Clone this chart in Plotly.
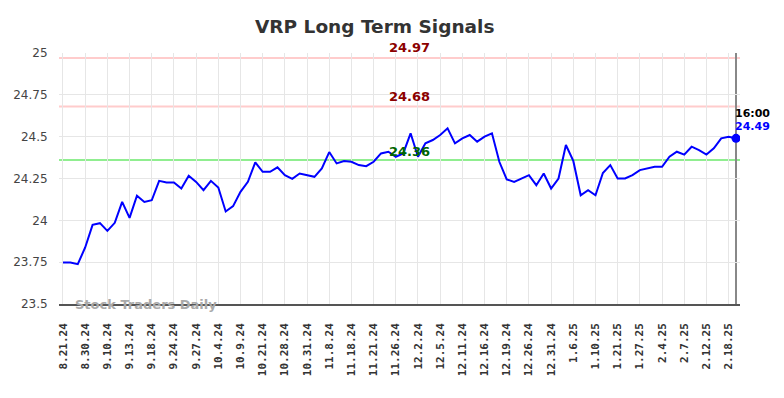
import plotly.graph_objects as go

prices = [
    23.748, 23.748, 23.738, 23.838, 23.973, 23.983, 23.937, 23.985, 24.110, 24.015,
    24.147, 24.110, 24.120, 24.236, 24.226, 24.226, 24.190, 24.266, 24.230, 24.180,
    24.236, 24.196, 24.053, 24.085, 24.170, 24.230, 24.346, 24.290, 24.290, 24.317,
    24.270, 24.248, 24.280, 24.270, 24.260, 24.310, 24.408, 24.340, 24.354, 24.350,
    24.330, 24.324, 24.350, 24.400, 24.410, 24.380, 24.400, 24.520, 24.380, 24.460,
    24.480, 24.510, 24.550, 24.460, 24.490, 24.510, 24.470, 24.500, 24.520, 24.350,
    24.245, 24.230, 24.250, 24.270, 24.210, 24.280, 24.190, 24.250, 24.450, 24.355,
    24.150, 24.180, 24.150, 24.283, 24.330, 24.250, 24.250, 24.270, 24.300, 24.310,
    24.320, 24.320, 24.380, 24.410, 24.393, 24.440, 24.420, 24.393, 24.430, 24.490,
    24.500, 24.490,
]

tick_labels = [
    "8.21.24", "8.30.24", "9.10.24", "9.13.24", "9.18.24", "9.24.24", "9.27.24",
    "10.4.24", "10.9.24", "10.21.24", "10.28.24", "10.31.24", "11.8.24", "11.18.24",
    "11.21.24", "11.26.24", "12.2.24", "12.5.24", "12.11.24", "12.16.24", "12.19.24",
    "12.26.24", "12.31.24", "1.6.25", "1.10.25", "1.21.25", "1.27.25", "2.4.25",
    "2.7.25", "2.12.25", "2.18.25",
]
tick_step = 3

upper_signals = [24.97, 24.68]
lower_signals = [24.36]
last_time = "16:00"

y_ticks = [23.5, 23.75, 24.0, 24.25, 24.5, 24.75, 25.0]
y_tick_text = ["23.5", "23.75", "24", "24.25", "24.5", "24.75", "25"]

x_idx = list(range(len(prices)))
tick_vals = [i * tick_step for i in range(len(tick_labels))]
last_i = x_idx[-1]
last_p = prices[-1]

fig = go.Figure()

fig.add_trace(go.Scatter(
    x=x_idx, y=prices, mode="lines",
    line=dict(color="#0000ff", width=2), hoverinfo="skip", showlegend=False,
))
fig.add_trace(go.Scatter(
    x=[last_i], y=[last_p], mode="markers",
    marker=dict(color="#0000ff", size=9), showlegend=False,
))

for v in upper_signals:
    fig.add_hline(y=v, line=dict(color="#ffcccc", width=2), layer="below")
    fig.add_annotation(x=0.514, xref="paper", y=v, yref="y", text=f"<b>{v:.2f}</b>",
                       showarrow=False, yanchor="bottom", yshift=1,
                       font=dict(color="#8b0000", size=13, family="DejaVu Sans"))
for v in lower_signals:
    fig.add_hline(y=v, line=dict(color="#90ee90", width=2), layer="below")
    fig.add_annotation(x=0.514, xref="paper", y=v, yref="y", text=f"<b>{v:.2f}</b>",
                       showarrow=False, yanchor="bottom", yshift=-1,
                       font=dict(color="#006400", size=13, family="DejaVu Sans"))

fig.add_vline(x=last_i, line=dict(color="#888888", width=2), layer="below")

fig.add_annotation(x=last_i, y=last_p, text=f"<b>{last_time}</b>", showarrow=False,
                   xanchor="left", yanchor="bottom", xshift=-3, yshift=16,
                   font=dict(color="#000000", size=11, family="DejaVu Sans"))
fig.add_annotation(x=last_i, y=last_p, text=f"<b>{last_p:.2f}</b>", showarrow=False,
                   xanchor="left", yanchor="bottom", xshift=-3, yshift=3,
                   font=dict(color="#0000ff", size=11, family="DejaVu Sans"))

fig.add_annotation(x=0.02, xref="paper", y=0.0, yref="paper", text="<b>Stock Traders Daily</b>",
                   showarrow=False, xanchor="left", yanchor="middle",
                   font=dict(color="#aaaaaa", size=13, family="DejaVu Sans"))

fig.update_layout(
    width=784, height=398,
    margin=dict(l=59, r=44, t=53, b=94),
    paper_bgcolor="white", plot_bgcolor="white",
    title=dict(text="<b>VRP Long Term Signals</b>", x=0.478, xanchor="center", y=0.95,
               font=dict(size=18.5, color="#333333", family="DejaVu Sans")),
    xaxis=dict(
        range=[-0.54, last_i + 0.54],
        tickmode="array", tickvals=tick_vals, ticktext=tick_labels,
        tickangle=-90, ticks="outside", ticklen=13, tickcolor="rgba(0,0,0,0)",
        tickfont=dict(family="DejaVu Sans Mono", size=11, color="#333333", weight="bold"),
        showgrid=True, gridcolor="#e6e6e6", gridwidth=1,
        showline=True, linecolor="#555555", linewidth=1.5,
        zeroline=False,
    ),
    yaxis=dict(
        range=[23.5, 25.0],
        tickmode="array", tickvals=y_ticks, ticktext=y_tick_text,
        ticks="outside", ticklen=8, tickcolor="rgba(0,0,0,0)",
        tickfont=dict(family="DejaVu Sans", size=12, color="#444444"),
        showgrid=True, gridcolor="#e6e6e6", gridwidth=1,
        zeroline=False, showline=False,
    ),
    showlegend=False,
)

fig.write_html("out.html", config={"displayModeBar": False},
               post_script="document.body.style.margin='0';document.body.style.overflow='hidden';")
